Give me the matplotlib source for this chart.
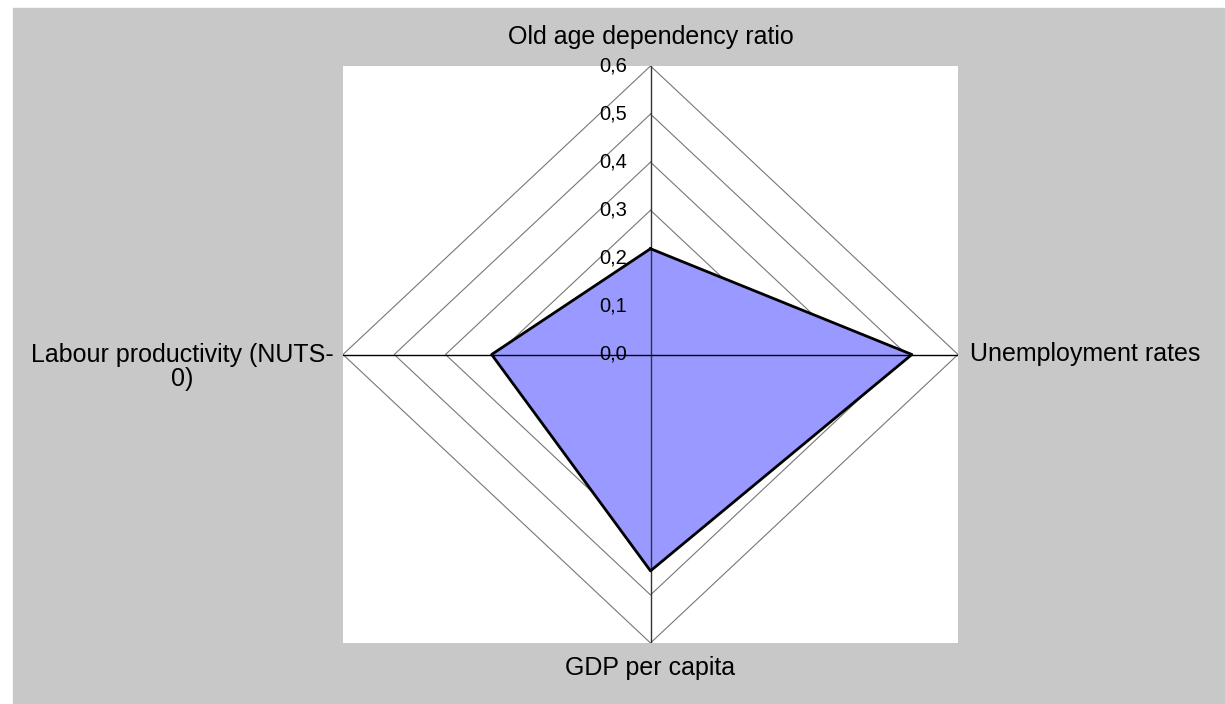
import numpy as np
import matplotlib.pyplot as plt
from matplotlib.patches import Rectangle

plt.rcParams['font.family'] = ['Liberation Sans', 'DejaVu Sans']

# data
categories = ["Old age dependency ratio", "Unemployment rates",
              "GDP per capita", "Labour productivity (NUTS-\n0)"]
values = [0.22, 0.51, 0.45, 0.31]
rings = [0.1, 0.2, 0.3, 0.4, 0.5, 0.6]
tick_labels = ["0,0", "0,1", "0,2", "0,3", "0,4", "0,5", "0,6"]

# directions: top, right, bottom, left
dx = np.array([0, 1, 0, -1])
dy = np.array([1, 0, -1, 0])

W, H = 1225, 704
fig = plt.figure(figsize=(W / 100, H / 100), dpi=100)
fig.patches.append(Rectangle((13 / W, 0), 1 - 13 / W, 1 - 8 / H,
                             transform=fig.transFigure, color='#c8c8c8', zorder=-10))

ax = fig.add_axes([343 / W, (H - 643) / H, (958 - 343) / W, (643 - 66) / H])
ax.set_xlim(-0.6, 0.6)
ax.set_ylim(-0.6, 0.6)
ax.axis('off')
ax.add_patch(Rectangle((-0.6, -0.6), 1.2, 1.2, color='white', zorder=0))

# grid rings
for r in rings:
    xs = np.append(dx * r, dx[0] * r)
    ys = np.append(dy * r, dy[0] * r)
    ax.plot(xs, ys, color='#777777', lw=0.8, zorder=1)

# data polygon
px = np.append(dx * np.array(values), dx[0] * values[0])
py = np.append(dy * np.array(values), dy[0] * values[0])
ax.fill(px, py, color='#9999ff', zorder=2)
ax.plot(px, py, color='black', lw=2, zorder=4, solid_joinstyle='round')

# spokes
ax.plot([0, 0], [-0.6, 0.6], color='#333333', lw=1, zorder=3)
ax.plot([-0.6, 0.6], [0, 0], color='black', lw=1, zorder=3)

# value labels
for i, t in enumerate(tick_labels):
    ax.text(-0.045, i * 0.1, t, ha='right', va='center', fontsize=14.5, zorder=5)

# category labels
fs = 18
ax.text(0, 0.66, categories[0], ha='center', va='center', fontsize=fs, clip_on=False)
ax.text(0.623, 0, categories[1], ha='left', va='center', fontsize=fs, clip_on=False)
ax.text(0, -0.652, categories[2], ha='center', va='center', fontsize=fs, clip_on=False)
ax.text(-0.914, -0.025, categories[3], ha='center', va='center', multialignment='center',
        fontsize=fs, clip_on=False, linespacing=1.0)

fig.savefig("out.png", dpi=100)
